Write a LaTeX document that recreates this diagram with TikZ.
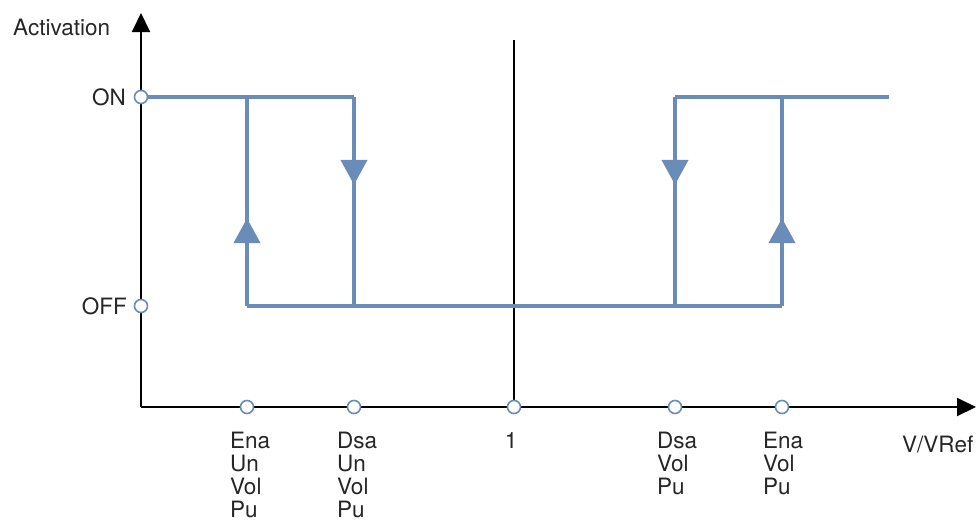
\documentclass[tikz,border=0pt]{standalone}
\usepackage{fontspec}
\setmainfont{TeX Gyre Heros}
\usetikzlibrary{arrows.meta, decorations.markings}
\definecolor{curve}{RGB}{106,140,184}

\begin{document}
\begin{tikzpicture}[x = 1pt, y = -1pt,
	dot/.style = {circle, draw = curve, fill = white, line width = 1.6pt, inner sep = 0pt, minimum size = 13pt},
	branch/.style = {curve, line width = 4.5pt},
	midarrow/.style = {postaction = {decorate}, decoration = {markings, mark = at position #1 with {\arrow{Triangle[width = 26pt, length = 25pt]}}}},
	axis/.style = {line width = 2pt, -{Triangle[width = 18pt, length = 19pt]}},
	lbl/.style = {font = \fontsize{22.5}{23}\selectfont, align = left, inner sep = 0pt, text = black!85}]
	\useasboundingbox (0,0) rectangle (979,522);

	% axes
	\coordinate (o) at (141,407);
	\coordinate (ytip) at (141,13);
	\coordinate (xtip) at (976,407);
	\draw [axis] (o) -- (ytip);
	\draw [axis] (o) -- (xtip);
	\node [lbl, anchor = base west] (act) at (13,35) {Activation};
	\node [lbl, anchor = base west] (ratio) at (902,452) {V/VRef};

	% levels and thresholds
	\node [dot] (on) at (141,97) {};
	\node [dot] (off) at (141,306) {};
	\node [lbl, anchor = east] at (126,97) {ON};
	\node [lbl, anchor = east] at (127,306) {OFF};

	\coordinate (mtop) at (514,40);
	\draw [line width = 1.3pt] (mtop) -- (514,407);

	\node [dot] (enaun) at (247,407) {};
	\node [dot] (dsaun) at (354,407) {};
	\node [dot] (one) at (514,407) {};
	\node [dot] (dsaov) at (675,407) {};
	\node [dot] (enaov) at (782,407) {};

	\node [lbl, anchor = north west] at (230,432) {Ena\\Un\\Vol\\Pu};
	\node [lbl, anchor = north west] at (337,432) {Dsa\\Un\\Vol\\Pu};
	\node [lbl, anchor = north] at (511,432) {1};
	\node [lbl, anchor = north west] at (657,432) {Dsa\\Vol\\Pu};
	\node [lbl, anchor = north west] at (763,432) {Ena\\Vol\\Pu};

	% hysteresis curve
	\coordinate (a1) at (247,97);
	\coordinate (a2) at (247,306);
	\coordinate (b1) at (354,97);
	\coordinate (b2) at (354,306);
	\coordinate (c1) at (675,97);
	\coordinate (c2) at (675,306);
	\coordinate (d1) at (782,97);
	\coordinate (d2) at (782,306);
	\coordinate (tail) at (889,97);

	\draw [branch] (on.east) -- (b1);
	\draw [branch, midarrow = 0.42] (a2) -- (a1);
	\draw [branch, midarrow = 0.42] (b1) -- (b2);
	\draw [branch] (a2) -- (d2);
	\draw [branch] (c1) -- (tail);
	\draw [branch, midarrow = 0.42] (c1) -- (c2);
	\draw [branch, midarrow = 0.42] (d2) -- (d1);
\end{tikzpicture}
\end{document}
